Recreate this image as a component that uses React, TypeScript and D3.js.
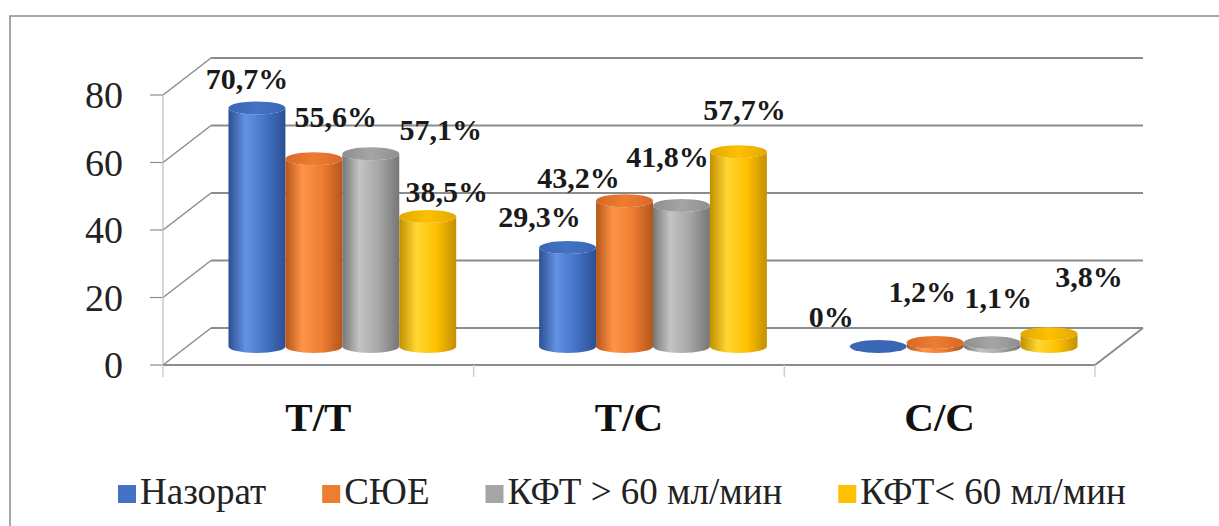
import React, { useRef, useEffect } from 'react';
import * as d3 from 'd3';

const categories = ['T/T', 'T/C', 'C/C'];
const seriesNames = ['Назорат', 'СЮЕ', 'КФТ > 60 мл/мин', 'КФТ< 60 мл/мин'];
const nazorat = [70.7, 29.3, 0];
const syue = [55.6, 43.2, 1.2];
const kftHigh = [57.1, 41.8, 1.1];
const kftLow = [38.5, 57.7, 3.8];
const yTicks = [0, 20, 40, 60, 80];

// manual label nudges (dx, dy from the top of each cylinder), like in the original
const labelNudge = [
  [[-10, -19], [-28, -21], [-47, -20]],
  [[22, -32], [-46, -13], [-13, -40]],
  [[70, -14], [-14, -38], [6, -35]],
  [[19, -15], [6, -32], [40, -47]],
];

const colors = [
  { base: '#4472C4', light: '#6391E3', dark: '#2C4F93', cap: '#3A66B6' },
  { base: '#ED7D31', light: '#FF9447', dark: '#B4561A', cap: '#D9682A' },
  { base: '#A5A5A5', light: '#C4C4C4', dark: '#767676', cap: '#8F8F8F' },
  { base: '#FFC000', light: '#FFD633', dark: '#C28F00', cap: '#E2A800' },
];

const SERIF = "'Liberation Serif', 'DejaVu Serif', 'Times New Roman', serif";

const fmt = (v: number) => (v === 0 ? '0%' : v.toFixed(1).replace('.', ',') + '%');

const App = () => {
  const svgRef = useRef<SVGSVGElement>(null);

  useEffect(() => {
    const width = 1219;
    const height = 526;
    const left = 163, right = 1095;
    const DX = 48, DY = -37; // depth of the 3d box
    const series = [nazorat, syue, kftHigh, kftLow];

    const svg = d3.select(svgRef.current)
      .attr('width', width)
      .attr('height', height);
    svg.selectAll('*').remove();

    const x = d3.scaleBand().domain(categories).range([left, right]);
    const y = d3.scaleLinear().domain([0, 80]).range([365, 95]);

    // gradients for the cylinders
    const defs = svg.append('defs');
    colors.forEach((c, i) => {
      const g = defs.append('linearGradient').attr('id', `body${i}`)
        .attr('x1', 0).attr('x2', 1).attr('y1', 0).attr('y2', 0);
      g.append('stop').attr('offset', '0%').attr('stop-color', c.dark);
      g.append('stop').attr('offset', '30%').attr('stop-color', c.light);
      g.append('stop').attr('offset', '65%').attr('stop-color', c.base);
      g.append('stop').attr('offset', '100%').attr('stop-color', c.dark);
      const t = defs.append('linearGradient').attr('id', `cap${i}`)
        .attr('x1', 0).attr('x2', 1).attr('y1', 0).attr('y2', 0);
      t.append('stop').attr('offset', '0%').attr('stop-color', c.cap);
      t.append('stop').attr('offset', '50%').attr('stop-color', c.base);
      t.append('stop').attr('offset', '100%').attr('stop-color', c.cap);
    });

    // outer frame
    svg.append('path')
      .attr('d', `M10,${height} V16 H${width}`)
      .attr('fill', 'none').attr('stroke', '#8a8a8a').attr('stroke-width', 1.5);

    const grid = svg.append('g').attr('stroke', '#8c8c8c').attr('fill', 'none');

    // back wall gridlines and side wall diagonals
    yTicks.forEach(t => {
      grid.append('line')
        .attr('x1', left + DX).attr('x2', right + DX)
        .attr('y1', y(t) + DY).attr('y2', y(t) + DY)
        .attr('stroke-width', 2);
      grid.append('line')
        .attr('x1', left).attr('y1', y(t))
        .attr('x2', left + DX).attr('y2', y(t) + DY)
        .attr('stroke-width', 1.5);
      grid.append('line')
        .attr('x1', left - 13).attr('x2', left)
        .attr('y1', y(t)).attr('y2', y(t))
        .attr('stroke-width', 1.2);
    });

    // front vertical axis
    grid.append('line')
      .attr('x1', left).attr('x2', left)
      .attr('y1', y(80)).attr('y2', y(0))
      .attr('stroke', '#bdbdbd').attr('stroke-width', 1.2);

    // floor
    grid.append('path')
      .attr('d', `M${left},${y(0)} H${right} L${right + DX},${y(0) + DY}`)
      .attr('stroke-width', 2);

    // category ticks under the floor
    const bounds = categories.map(c => x(c) as number).concat([right]);
    bounds.forEach(b => {
      grid.append('line')
        .attr('x1', b).attr('x2', b)
        .attr('y1', y(0)).attr('y2', y(0) + 12)
        .attr('stroke', '#cfcfcf').attr('stroke-width', 1.5);
    });

    // y axis labels
    svg.append('g')
      .selectAll('text')
      .data(yTicks)
      .join('text')
      .attr('x', left - 40)
      .attr('y', d => y(d))
      .attr('dy', '0.35em')
      .attr('text-anchor', 'end')
      .style('font-family', SERIF)
      .style('font-size', '38px')
      .attr('fill', '#222')
      .text(d => d);

    // cylinders
    const groupW = x.bandwidth() * 0.733;
    const inner = d3.scaleBand<number>().domain(d3.range(series.length)).range([0, groupW]);
    const bw = inner.bandwidth();
    const rx = bw / 2, ry = 6.5;
    const bars = svg.append('g');
    categories.forEach((cat, ci) => {
      const gx = (x(cat) as number) + (x.bandwidth() - groupW) / 2 + DX / 2;
      series.forEach((vals, si) => {
        const cx = gx + (inner(si) as number) + rx;
        const by = y(0) + DY / 2;
        const ty = y(vals[ci]) + DY / 2;
        if (vals[ci] > 0) {
          bars.append('path')
            .attr('d', `M${cx - rx},${ty} V${by} A${rx},${ry} 0 0 0 ${cx + rx},${by} V${ty} A${rx},${ry} 0 0 1 ${cx - rx},${ty} Z`)
            .attr('fill', `url(#body${si})`);
        }
        bars.append('ellipse')
          .attr('cx', cx).attr('cy', ty)
          .attr('rx', rx).attr('ry', ry)
          .attr('fill', vals[ci] > 0 ? `url(#cap${si})` : colors[si].cap);
      });
    });

    // value labels
    const labels = svg.append('g')
      .style('font-family', SERIF)
      .style('font-weight', 'bold')
      .style('font-size', '30px')
      .attr('fill', '#1a1a1a')
      .attr('text-anchor', 'middle');
    categories.forEach((cat, ci) => {
      const gx = (x(cat) as number) + (x.bandwidth() - groupW) / 2 + DX / 2;
      series.forEach((vals, si) => {
        const cx = gx + (inner(si) as number) + rx;
        const ty = y(vals[ci]) + DY / 2;
        const [dx, dy] = labelNudge[si][ci];
        labels.append('text')
          .attr('x', cx + dx)
          .attr('y', ty + dy)
          .text(fmt(vals[ci]));
      });
    });

    // category labels
    svg.append('g')
      .selectAll('text')
      .data(categories)
      .join('text')
      .attr('x', d => (x(d) as number) + x.bandwidth() / 2)
      .attr('y', 431)
      .attr('text-anchor', 'middle')
      .style('font-family', SERIF)
      .style('font-weight', 'bold')
      .style('font-size', '41px')
      .attr('fill', '#111')
      .text(d => d);

    // legend
    const legend = svg.append('g').attr('transform', 'translate(118, 485)');
    let lx = 0;
    seriesNames.forEach((name, i) => {
      legend.append('rect')
        .attr('x', lx).attr('y', 0)
        .attr('width', 18).attr('height', 18)
        .attr('fill', colors[i].base);
      const t = legend.append('text')
        .attr('x', lx + 22).attr('y', 19)
        .style('font-family', SERIF)
        .style('font-size', '37px')
        .attr('fill', '#222')
        .text(name);
      const w = (t.node() as SVGTextElement).getComputedTextLength();
      lx += 22 + w + 56;
    });
  }, []);

  return (
    <svg ref={svgRef} style={{ position: 'absolute', left: 0, top: 0, display: 'block', background: '#fff' }}></svg>
  );
};

export default App;
